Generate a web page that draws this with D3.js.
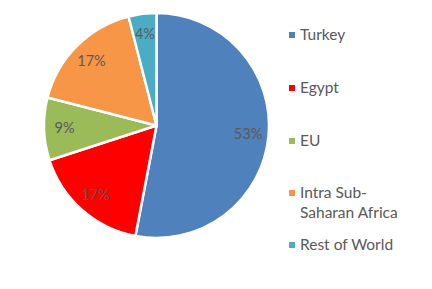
<!DOCTYPE html>
<html>
<head>
<meta charset="utf-8">
<script src="https://cdn.jsdelivr.net/npm/d3@7"></script>
<style>
  body { margin: 0; background: #fff; }
  text { font-family: Lato, "Open Sans", sans-serif; fill: #595959; }
</style>
</head>
<body>
<div id="chart"></div>
<script>
// Chart data
const categories = ["Turkey", "Egypt", "EU", "Intra Sub-Saharan Africa", "Rest of World"];
const shares = [53, 17, 9, 17, 4];
const colors = ["#4F81BD", "#FF0000", "#9BBB59", "#F79646", "#4BACC6"];
const legendLines = [["Turkey"], ["Egypt"], ["EU"], ["Intra Sub-", "Saharan Africa"], ["Rest of World"]];

const width = 432, height = 289;
const cx = 156.5, cy = 125.5, radius = 112.5;

const svg = d3.select("#chart").append("svg")
    .attr("width", width)
    .attr("height", height);

const data = categories.map((c, i) => ({ name: c, value: shares[i], color: colors[i] }));

// Pie layout, clockwise from 12 o'clock, in data order
const pie = d3.pie().sort(null).value(d => d.value);
const arc = d3.arc().innerRadius(0).outerRadius(radius);
const labelArc = d3.arc().innerRadius(92).outerRadius(92);

const g = svg.append("g").attr("transform", `translate(${cx}, ${cy})`);

g.selectAll("path")
    .data(pie(data))
    .enter()
    .append("path")
    .attr("d", arc)
    .attr("fill", d => d.data.color)
    .attr("stroke", "#fff")
    .attr("stroke-width", 2.5)
    .attr("stroke-linejoin", "round");

g.selectAll(".lbl")
    .data(pie(data))
    .enter()
    .append("text")
    .attr("class", "lbl")
    .attr("transform", d => `translate(${labelArc.centroid(d)})`)
    .attr("text-anchor", "middle")
    .attr("dy", "0.35em")
    .style("font-size", "14.5px")
    .text(d => d.data.value + "%");

// Legend
const legendY = [35, 88, 141, 193, 245];
const legend = svg.append("g");

data.forEach((d, i) => {
    legend.append("rect")
        .attr("x", 289)
        .attr("y", legendY[i] - 3)
        .attr("width", 6)
        .attr("height", 6)
        .attr("fill", d.color);
    legendLines[i].forEach((line, j) => {
        legend.append("text")
            .attr("x", 300)
            .attr("y", legendY[i] + j * 20)
            .attr("dy", "0.35em")
            .style("font-size", "15.5px")
            .text(line);
    });
});
</script>
</body>
</html>
